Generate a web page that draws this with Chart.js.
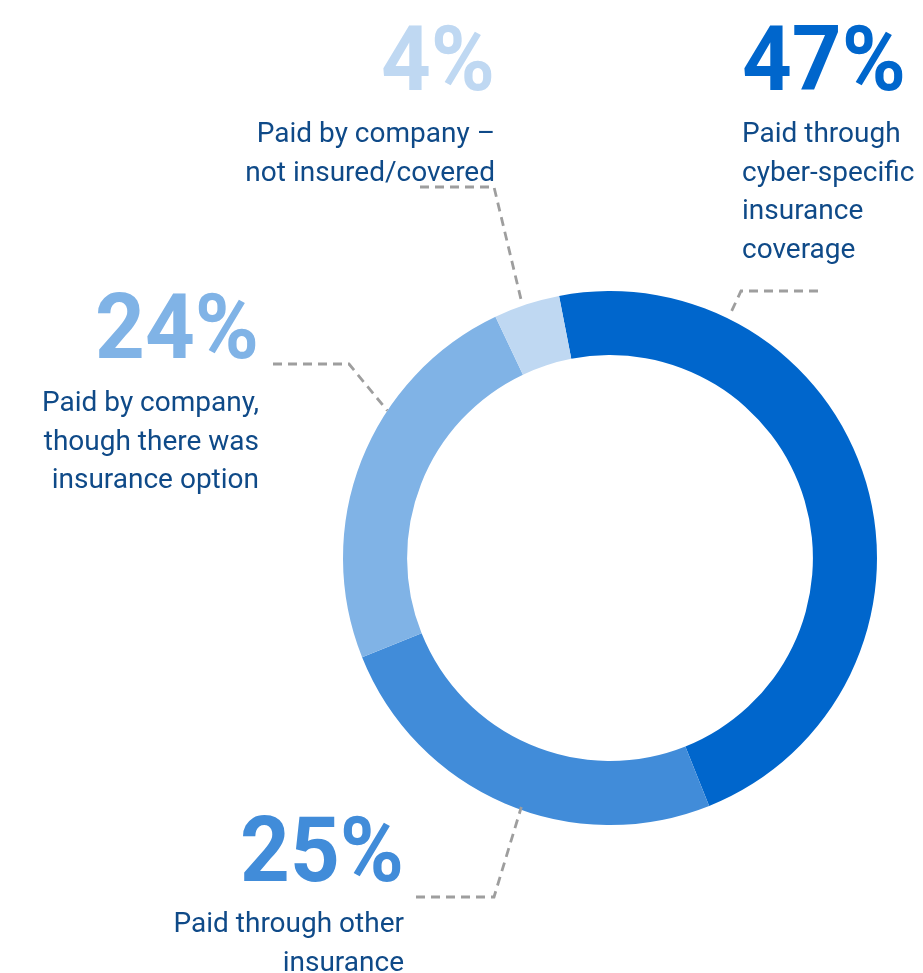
<!DOCTYPE html>
<html>
<head>
<meta charset="utf-8">
<script src="https://cdn.jsdelivr.net/npm/chart.js@4"></script>
<style>
  html, body { margin: 0; padding: 0; background: #fff; }
  #wrap { width: 923px; height: 973px; position: relative; }
</style>
</head>
<body>
<div id="wrap"><canvas id="payChart"></canvas></div>
<script>
// how ransom / incident costs were paid
const categories = [
  'Paid through cyber-specific insurance coverage',
  'Paid through other insurance',
  'Paid by company, though there was insurance option',
  'Paid by company – not insured/covered'
];
const shares = [47, 25, 24, 4];
const sliceColors = ['#0066cc', '#418cd9', '#80b3e6', '#bfd8f2'];

// wrapped caption lines for each slice
const captionLines = [
  ['Paid through', 'cyber-specific', 'insurance', 'coverage'],
  ['Paid through other', 'insurance'],
  ['Paid by company,', 'though there was', 'insurance option'],
  ['Paid by company –', 'not insured/covered']
];

// where each caption sits and how its dashed pointer runs
const captionLayout = [
  { x: 742, align: 'left',  numY: 90,  textY: 142, lineFrom: [818, 291], elbow: [741, 291], at: 0.22, r: 1.03 },
  { x: 404, align: 'right', numY: 881, textY: 932, lineFrom: [416, 897], elbow: [494, 897], at: 0.46, r: 0.99 },
  { x: 259, align: 'right', numY: 358, textY: 411, lineFrom: [273, 364], elbow: [349, 364], at: 0.64, r: 1.0 },
  { x: 495, align: 'right', numY: 90,  textY: 142, lineFrom: [420, 187], elbow: [494, 187], at: 0.44, r: 1.01 }
];

const captions = {
  id: 'captions',
  afterDraw(chart) {
    const ctx = chart.ctx;
    const arcs = chart.getDatasetMeta(0).data;
    ctx.save();
    arcs.forEach((arc, i) => {
      const lay = captionLayout[i];
      const p = arc.getProps(['x', 'y', 'startAngle', 'endAngle', 'outerRadius'], true);
      const a = p.startAngle + lay.at * (p.endAngle - p.startAngle);
      const ex = p.x + Math.cos(a) * p.outerRadius * lay.r;
      const ey = p.y + Math.sin(a) * p.outerRadius * lay.r;

      // dashed pointer
      ctx.beginPath();
      ctx.setLineDash([9, 6]);
      ctx.lineWidth = 2.8;
      ctx.strokeStyle = '#9e9e9e';
      ctx.moveTo(lay.lineFrom[0], lay.lineFrom[1]);
      ctx.lineTo(lay.elbow[0], lay.elbow[1]);
      ctx.lineTo(ex, ey);
      ctx.stroke();
      ctx.setLineDash([]);

      // big percentage, a touch narrower than plain Roboto bold
      ctx.textAlign = lay.align;
      ctx.textBaseline = 'alphabetic';
      ctx.fillStyle = sliceColors[i];
      ctx.font = 'bold 91px Roboto';
      ctx.save();
      ctx.translate(lay.x, lay.numY);
      ctx.scale(0.955, 1);
      ctx.fillText(shares[i] + '%', 0, 0);
      ctx.restore();

      // caption text
      ctx.fillStyle = '#0f4a88';
      ctx.font = '28px Roboto';
      captionLines[i].forEach((line, k) => {
        ctx.fillText(line, lay.x, lay.textY + k * 38.7);
      });
    });
    ctx.restore();
  }
};

new Chart(document.getElementById('payChart'), {
  type: 'doughnut',
  data: {
    labels: categories,
    datasets: [{
      data: shares,
      backgroundColor: sliceColors,
      borderWidth: 0
    }]
  },
  options: {
    responsive: true,
    maintainAspectRatio: false,
    animation: false,
    rotation: -11,
    cutout: '76%',
    layout: { padding: { left: 343, right: 46, top: 291, bottom: 148 } },
    plugins: {
      legend: { display: false },
      tooltip: { enabled: false }
    }
  },
  plugins: [captions]
});
</script>
</body>
</html>
